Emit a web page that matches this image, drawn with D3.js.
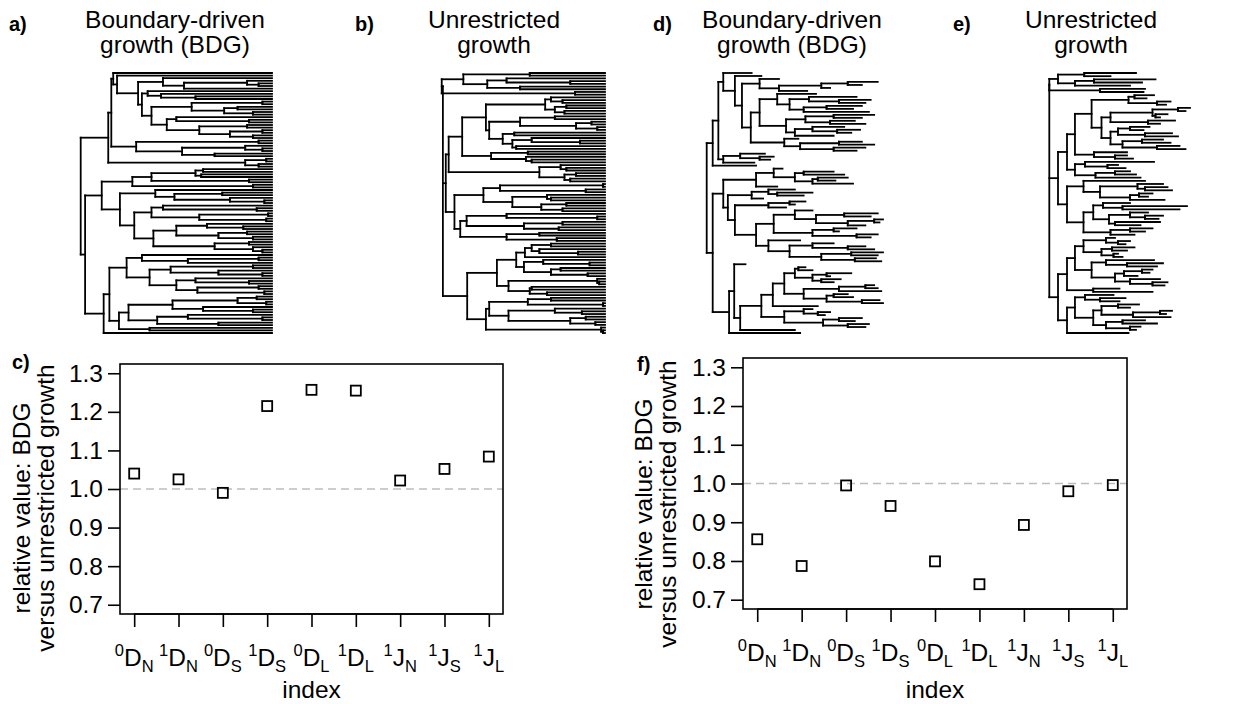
<!DOCTYPE html>
<html>
<head>
<meta charset="utf-8">
<script src="https://cdn.jsdelivr.net/npm/d3@7"></script>
<style>
  body { margin: 0; background: #fff; }
  text { font-family: "Liberation Sans", Arial, Helvetica, sans-serif; fill: #000; }
</style>
</head>
<body>
<svg id="fig" width="1239" height="704"></svg>
<script>
// ---- data ----
// index labels (superscript, letter, subscript)
var indexSup = ['0', '1', '0', '1', '0', '1', '1', '1', '1'];
var indexBase = ['D', 'D', 'D', 'D', 'D', 'D', 'J', 'J', 'J'];
var indexSub = ['N', 'N', 'S', 'S', 'L', 'L', 'N', 'S', 'L'];

// relative value BDG / unrestricted growth
var valuesC = [1.04, 1.025, 0.99, 1.215, 1.257, 1.255, 1.022, 1.052, 1.084];
var valuesF = [0.856, 0.787, 0.995, 0.942, 0.799, 0.74, 0.893, 0.98, 0.996];
var yTicks = [0.7, 0.8, 0.9, 1.0, 1.1, 1.2, 1.3];

// trees: newick, number after ")" = node position (0 root .. 1 present),
// empty leaf = 1 (tip at present)
var aN330 = "(,((,(,)0.93)0.87,)0.54)0.43";
var aN245 = "((,(,(,)0.6)0.42)0.35,(((,)0.95,((,)0.82,(,)0.9)0.75)0.58,((,(,)0.88)0.5,((,)0.87,((,)0.95,(,)0.9)0.78)0.62)0.45)0.37)0.32";
var aA1low = "((,)0.93,((,(,)0.95)0.86,(,)0.7)0.53)0.29";
var aA2 = "((,)0.97,(,)0.93)0.86";
var aB1a = "((((,)0.64,(,)0.63)0.6,(,)0.88)0.37,(,)0.9)0.27";
var aB1b1 = "(,((,)0.74,(,(,)0.96)0.78)0.49)0.39";
var aX = "((,(,)0.92)0.43,((,)0.98,(,)0.97)0.62)0.37";
var aY = "(((,(,)0.85)0.66,((,)0.87,(,)0.9)0.72)0.5,((,)0.88,(,(,)0.95)0.9)0.7)0.38";
var aP = "((,((,)0.93,)0.56)0.32,(((,)0.9,(,(,)0.95)0.72)0.47,((,(,)0.88)0.6,((,)0.93,(,)0.96)0.61)0.5)0.36)0.24";
var aQa = "((((,)0.92,(,)0.97)0.82,(,(,)0.9)0.64)0.48,((,(,)0.95)0.56,(,)0.72)0.4)0.25";
var treeA = "(((" + "(,(,(" + aN330 + "," + aN245 + ")0.3)0.19)0.17," + aA1low + ")0.16," + aA2 + ")0.144," +
  "((" + aB1a + ",(" + aB1b1 + ",(" + aX + "," + aY + ")0.28)0.205)0.11,((" + aP + ",(" + aQa + ",(,)0.36)0.2)0.15,)0.12)0.023)0";

var bTop = "(((,)0.61,((,(,)0.82)0.49,(,)0.56)0.39)0.266,(,)0.845)0.154";
var bN288 = "(((,(,)0.78)0.72,((,)0.8,(,)0.79)0.74)0.69,(((,)0.74,((,)0.93,(,)0.96)0.85)0.56,((,)0.53,((,(,)0.87)0.62,(,)0.54)0.52)0.47)0.4)0.383";
var bL1aLow = "((,)0.6,(,(,)0.62)0.59)0.41";
var bM = "((,(,)0.8)0.77,((,)0.85,(,)0.82)0.79)0.66";
var bL1c1 = "(((,)0.99,(,)0.9)0.456,((,(,)0.72)0.7,((,)0.8,(,)0.78)0.67)0.52)0.37";
var bL1c2 = "(((,(,)0.96)0.49,((,)0.78,(,)0.76)0.58)0.283,((,)0.66,(,)0.75)0.49)0.25";
var bL2u = "(((((,)0.72,(,(,)0.86)0.66)0.62,)0.585,((,(,)0.92)0.68,((,)0.77,(,)0.91)0.72)0.58)0.54,((,(,)0.97)0.96,((,)0.62,(,)0.7)0.61)0.5)0.44";
var bL2l = "((((,)0.72,(,)0.99)0.6,((,(,)0.88)0.74,((,)0.9,(,)0.95)0.82)0.5)0.4,(,(,)0.99)0.98)0.383";
var treeB = "(" + bTop + ",(((" + bN288 + "," + bL1aLow + ")0.26," + bM + ")0.19,(" + bL1c1 + "," + bL1c2 + ")0.22)0.175,(" +
  bL2u + "," + bL2l + ")0.286)0.16)0";

var dB1 = "(0.41,(((0.97,0.88)0.8,0.7)0.65,0.57)0.41)0.3";
var dB2a = "((0.62,((0.85,(0.93,0.9)0.75)0.58,((0.88,0.83)0.68,0.92)0.55)0.47)0.4,(((0.95,0.88)0.72,(0.84,0.9)0.7)0.56,((0.78,(0.87,0.82)0.74)0.6,0.72)0.5)0.45)0.3";
var dC = "(0.52,((0.88,0.95)0.75,(0.9,0.85)0.72)0.53)0.44";
var dU1b = "((0.33,(0.38,0.36)0.3)0.19,0.27)0.094";
var dL1a = "((0.43,((0.72,0.78)0.55,((0.8,0.73)0.63,0.83)0.6)0.5)0.38,0.4)0.28";
var dL1x = "((0.5,(0.6,0.55)0.4)0.35,0.32)0.255";
var dL1b1 = "((0.56,0.5)0.47,0.45)0.35";
var dX = "((0.6,((0.97,0.93)0.78,((1.0,0.98)0.95,0.9)0.8)0.62)0.5,((0.85,0.75)0.72,(0.97,0.93)0.85)0.6)0.38";
var dY = "(0.53,((0.72,(0.9,0.95)0.8)0.6,((1.0,0.97)0.82,(0.96,0.99)0.84)0.65)0.47)0.35";
var dBig = "(((0.56,0.6)0.52,((0.82,0.7)0.68,(0.76,0.72)0.65)0.6)0.5,(((0.95,0.97)0.9,0.99)0.75,((0.8,0.83)0.72,(0.98,1.0)0.88)0.68)0.55)0.44";
var dL2e = "((0.6,(0.7,0.67)0.63)0.55,((0.88,0.84)0.75,(0.92,0.9)0.8)0.66)0.44";
var treeD = "((((0.255,(0.31,(" + dB1 + ",(" + dB2a + "," + dC + ")0.25)0.2)0.16)0.094," + dU1b + ")0.066,0.28)0.034,((" +
  dL1a + ",(" + dL1x + ",(" + dL1b1 + ",(" + dX + "," + dY + ")0.28)0.16)0.12)0.094,((0.22,(((" +
  dBig + ",0.63)0.375," + dL2e + ")0.31,0.5)0.19)0.156,0.53)0.127)0.034)0";

var eTop = "(((0.64,0.47)0.295,((0.77,0.68)0.36,0.6)0.233)0.12,(0.7,0.69)0.4)0.062";
var eA1 = "((0.76,0.71)0.63,(0.87,0.84)0.78)0.59";
var eA2 = "(((1.0,0.97)0.92,(0.85,0.8)0.77)0.75,(0.9,0.8)0.72)0.47";
var eA3 = "(((0.73,0.69)0.6,(0.88,0.92)0.7)0.52,((0.82,0.87)0.68,(0.93,0.97)0.78)0.55)0.47";
var eL1b = "((0.76,(0.52,0.57)0.45)0.3,((0.6,0.64)0.5,0.67)0.37)0.233";
var eP = "(0.7,((0.82,(0.85,0.88)0.7)0.65,((0.75,0.72)0.66,0.83)0.6)0.4)0.29";
var eQ = "(((0.6,(0.98,0.93)0.55)0.42,((0.72,(0.82,0.79)0.7)0.6,(0.8,0.67)0.5)0.46)0.355,((0.75,0.7)0.6,0.63)0.47)0.29";
var eR = "(((0.5,(0.6,0.57)0.52)0.44,((0.63,0.58)0.48,(0.52,0.55)0.49)0.41)0.29,((0.76,(0.82,0.78)0.58)0.44,(((0.75,0.73)0.68,0.65)0.56,(0.8,(0.85,0.83)0.75)0.6)0.5)0.344)0.233";
var eL2l = "(((0.49,(0.57,0.53)0.4)0.3,(((0.66,0.6)0.52,((0.88,0.84)0.8,0.87)0.62)0.41,((0.7,0.78)0.55,(0.67,0.64)0.6)0.44)0.355)0.233,0.59)0.18";
var treeE = "(" + eTop + ",((((" + eA1 + ",(" + eA2 + "," + eA3 + ")0.41)0.344,(0.58,(0.58,0.62)0.5)0.36)0.233," + eL1b + ")0.18,(" +
  eP + "," + eQ + ")0.18)0.12,((" + eR + ",(0.53,0.75)0.355)0.18," + eL2l + ")0.12)0.062)0";

// ---- helpers ----
function parseTree(s) {
    var i = 0;
    function node() {
        var n = {};
        if (s[i] === '(') {
            i++;
            n.children = [node()];
            while (s[i] === ',') {
                i++;
                n.children.push(node());
            }
            i++; // closing paren
        }
        var m = /^[0-9.]*/.exec(s.slice(i))[0];
        i += m.length;
        n.t = m === '' ? 1 : +m;
        return n;
    }
    return node();
}

var svg = d3.select('#fig');
var font = 24.5;

function drawTree(str, x0, x1, y0, y1) {
    var root = d3.hierarchy(parseTree(str));
    var leaves = root.leaves();
    var y = d3.scaleLinear().domain([0, leaves.length - 1]).range([y0, y1]);
    var x = d3.scaleLinear().domain([0, 1]).range([x0, x1]);
    leaves.forEach(function(d, i) { d.yy = y(i); });
    root.eachAfter(function(d) {
        if (d.children) d.yy = (d.children[0].yy + d.children[d.children.length - 1].yy) / 2;
    });
    var g = svg.append('g')
        .attr('stroke', '#000')
        .attr('stroke-width', 1.8)
        .attr('stroke-linecap', 'square')
        .attr('fill', 'none');
    // horizontal branches
    g.selectAll('line.h')
        .data(root.descendants().filter(function(d) { return d.parent; }))
        .enter().append('line')
        .attr('class', 'h')
        .attr('x1', function(d) { return x(d.parent.data.t); })
        .attr('x2', function(d) { return x(d.data.t); })
        .attr('y1', function(d) { return d.yy; })
        .attr('y2', function(d) { return d.yy; });
    // vertical connectors
    g.selectAll('line.v')
        .data(root.descendants().filter(function(d) { return d.children; }))
        .enter().append('line')
        .attr('class', 'v')
        .attr('x1', function(d) { return x(d.data.t); })
        .attr('x2', function(d) { return x(d.data.t); })
        .attr('y1', function(d) { return d.children[0].yy; })
        .attr('y2', function(d) { return d.children[d.children.length - 1].yy; });
}

function title(cx, l1, l2) {
    svg.append('text').attr('x', cx).attr('y', 28).attr('text-anchor', 'middle')
        .style('font-size', font + 'px').text(l1);
    svg.append('text').attr('x', cx).attr('y', 53).attr('text-anchor', 'middle')
        .style('font-size', font + 'px').text(l2);
}

function panelLabel(x, y, s) {
    svg.append('text').attr('x', x).attr('y', y)
        .style('font-size', '20px').style('font-weight', 'bold').text(s);
}

function scatter(values, left, right, top, bottom, labX, labCy) {
    var x = d3.scaleLinear().domain([0.68, 9.32]).range([left, right]);
    var y = d3.scaleLinear().domain([0.676, 1.324]).range([bottom, top]);
    var g = svg.append('g');

    // reference line at 1
    g.append('line')
        .attr('x1', left).attr('x2', right)
        .attr('y1', y(1)).attr('y2', y(1))
        .attr('stroke', '#bdbdbd').attr('stroke-width', 1.6)
        .attr('stroke-dasharray', '8,5');

    g.append('rect')
        .attr('x', left).attr('y', top)
        .attr('width', right - left).attr('height', bottom - top)
        .attr('fill', 'none').attr('stroke', '#000').attr('stroke-width', 1.6);

    var ya = g.append('g').attr('transform', 'translate(' + left + ',0)')
        .call(d3.axisLeft(y).tickValues(yTicks).tickFormat(d3.format('.1f'))
            .tickSize(12).tickSizeOuter(0).tickPadding(5));
    ya.select('.domain').remove();
    ya.selectAll('line').attr('stroke-width', 1.6);
    ya.selectAll('text').style('font-size', font + 'px').attr('fill', '#000')
        .style('font-family', '"Liberation Sans", Arial, sans-serif');

    var idx = d3.range(1, 10);
    var xa = g.append('g').attr('transform', 'translate(0,' + bottom + ')')
        .call(d3.axisBottom(x).tickValues(idx).tickFormat('').tickSize(13).tickSizeOuter(0));
    xa.select('.domain').remove();
    xa.selectAll('line').attr('stroke-width', 1.6);
    xa.append('line')
        .attr('x1', x(1)).attr('x2', x(9)).attr('stroke', '#000').attr('stroke-width', 1.6);

    // index tick labels with super/subscripts
    idx.forEach(function(k, i) {
        var t = g.append('text').attr('x', x(k)).attr('y', bottom + 52)
            .attr('text-anchor', 'middle').style('font-size', font + 'px');
        t.append('tspan').attr('dy', -10).style('font-size', '16.5px').text(indexSup[i]);
        t.append('tspan').attr('dy', 10).text(indexBase[i]);
        t.append('tspan').attr('dy', 6).style('font-size', '16.5px').text(indexSub[i]);
    });

    // points
    g.selectAll('rect.pt').data(values).enter().append('rect')
        .attr('class', 'pt')
        .attr('x', function(d, i) { return x(i + 1) - 5; })
        .attr('y', function(d) { return y(d) - 5; })
        .attr('width', 10).attr('height', 10)
        .attr('fill', 'none').attr('stroke', '#000').attr('stroke-width', 1.8);

    // axis titles
    g.append('text').attr('x', (left + right) / 2).attr('y', 698)
        .attr('text-anchor', 'middle').style('font-size', font + 'px').text('index');
    g.append('text')
        .attr('transform', 'translate(' + labX + ',' + labCy + ') rotate(-90)')
        .attr('text-anchor', 'middle').style('font-size', font + 'px')
        .text('relative value: BDG');
    g.append('text')
        .attr('transform', 'translate(' + (labX + 24) + ',' + labCy + ') rotate(-90)')
        .attr('text-anchor', 'middle').style('font-size', font + 'px')
        .text('versus unrestricted growth');
}

// ---- trees ----
drawTree(treeA, 80.7, 272, 73, 333);
drawTree(treeB, 412, 605, 73, 333);
drawTree(treeD, 706.7, 883, 73, 333);
drawTree(treeE, 1040, 1190, 73, 333);

title(175, 'Boundary-driven', 'growth (BDG)');
title(494, 'Unrestricted', 'growth');
title(792, 'Boundary-driven', 'growth (BDG)');
title(1091, 'Unrestricted', 'growth');

panelLabel(9, 31, 'a)');
panelLabel(355, 31, 'b)');
panelLabel(653, 31, 'd)');
panelLabel(953, 31, 'e)');
panelLabel(12, 369, 'c)');
panelLabel(637, 371, 'f)');

// ---- scatter panels ----
scatter(valuesC, 120, 503, 364, 614, 30, 508);
scatter(valuesF, 743, 1127, 358, 609, 652, 504);
</script>
</body>
</html>
